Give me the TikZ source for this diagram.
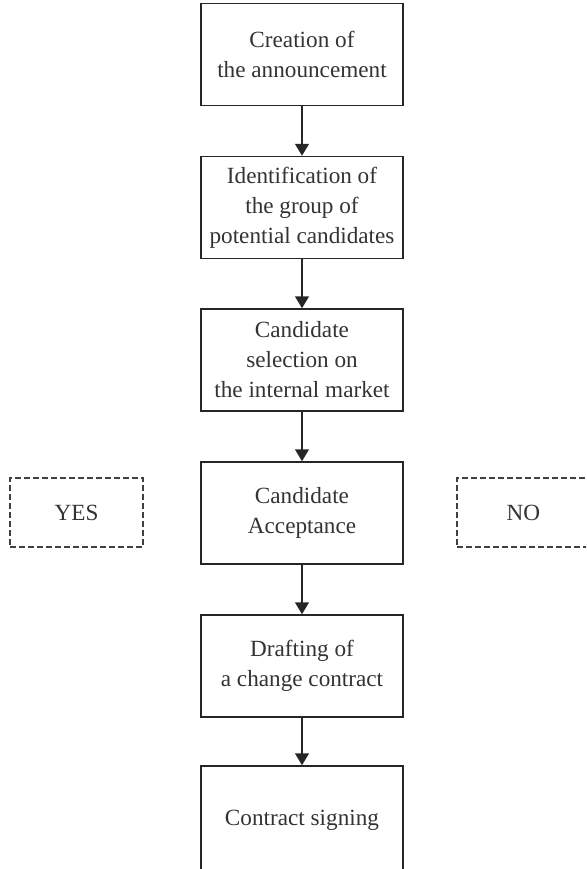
\documentclass[tikz,border=0pt]{standalone}
\usepackage{fontspec}
\setmainfont{Liberation Serif}
\usetikzlibrary{arrows.meta}

\begin{document}
\begin{tikzpicture}[x=0.5pt, y=-0.5pt,
  stepbox/.style={draw=black!85, line width=0.75pt, minimum width=101pt,
    minimum height=51pt, align=center, inner sep=0pt,
    font=\fontsize{11.6}{15}\selectfont, text=black!80},
  answerbox/.style={draw=black!75, line width=0.7pt,
    dash pattern=on 3pt off 1.5pt, minimum width=66.5pt,
    minimum height=34.5pt, inner sep=0pt,
    font=\fontsize{11.6}{15}\selectfont, text=black!80},
  flowarrow/.style={draw=black!85, line width=0.75pt,
    -{Triangle[length=6pt,width=7pt]}}]
  \useasboundingbox (0,0) rectangle (586,869);
  \clip (0,0) rectangle (586,869);
  % Process boxes
  \node[stepbox] (creation)       at (302, 54.5) {Creation of\\the announcement};
  \node[stepbox] (identification) at (302,207.5) {Identification of\\the group of\\potential candidates};
  \node[stepbox] (selection)      at (302,360)   {Candidate\\selection on\\the internal market};
  \node[stepbox] (acceptance)     at (302,513)   {Candidate\\Acceptance};
  \node[stepbox] (drafting)       at (302,666)   {Drafting of\\a change contract};
  \node[stepbox, minimum height=54pt] (signing) at (302,820) {Contract signing};
  % Answers
  \node[answerbox] (yes) at ( 76.5,512.5) {YES};
  \node[answerbox] (no)  at (523.5,512.5) {NO};
  % Arrows
  \foreach \a/\b in {creation/identification, identification/selection,
      selection/acceptance, acceptance/drafting, drafting/signing} {
    \draw[flowarrow] (\a) -- (\b);
  }
\end{tikzpicture}
\end{document}
